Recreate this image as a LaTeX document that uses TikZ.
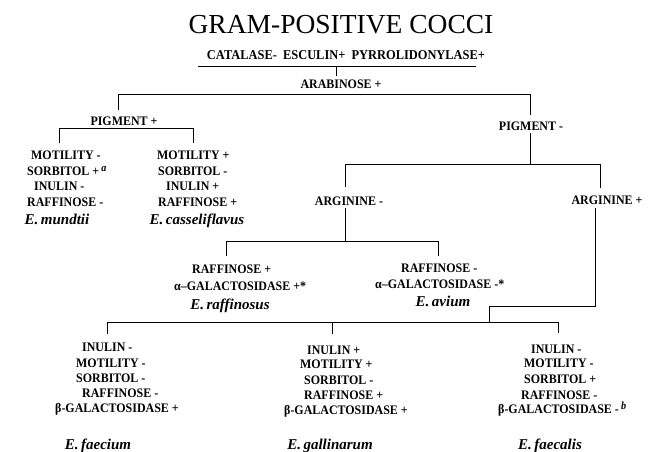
\documentclass[tikz,border=0pt]{standalone}
\usepackage{fontspec}
\setmainfont{Liberation Serif}
\newfontfamily\narrowserif[FakeStretch=0.92]{Liberation Serif}
\newcommand\supmark[1]{\raisebox{4pt}{\fontsize{11}{11}\selectfont\itshape #1}}
\begin{document}
\begin{tikzpicture}[x=1pt,y=-1pt,
  lbl/.style={font=\narrowserif\fontsize{13}{14}\selectfont\bfseries, inner sep=0pt, anchor=west, text height=9pt, text depth=0pt},
  hdr/.style={font=\narrowserif\fontsize{13}{14}\selectfont\bfseries, inner sep=0pt, text height=9pt, text depth=0pt},
  spc/.style={font=\fontsize{15}{16}\selectfont\bfseries\itshape, inner sep=0pt, text height=10pt, text depth=0pt},
  conn/.style={draw=black, line width=0.9pt}]
\useasboundingbox[fill=white] (0,0) rectangle (662,452);

% titles and headers
\node[inner sep=0pt, font=\fontsize{27.5}{30}\selectfont, text height=18pt, text depth=0pt] (title) at (341,25) {GRAM-POSITIVE COCCI};
\node[hdr, font=\narrowserif\fontsize{13.5}{14}\selectfont\bfseries] (cat) at (346,55) {CATALASE-\ \ ESCULIN+\ \ PYRROLIDONYLASE+};
\node[hdr] (arab) at (341,84) {ARABINOSE +};
\node[hdr] (pigp) at (124,121) {PIGMENT +};
\node[hdr] (pigm) at (531,126) {PIGMENT -};
\node[hdr] (argm) at (349,201) {ARGININE -};
\node[hdr] (argp) at (607,200) {ARGININE +};

% E. mundtii column
\node[lbl] (m1) at (31,155) {MOTILITY -};
\node[lbl] (m2) at (27,171) {SORBITOL +\,\supmark{a}};
\node[lbl] (m3) at (34,186) {INULIN -};
\node[lbl] (m4) at (27,202) {RAFFINOSE -};
\node[spc] (mund) at (57,219) {E.\,mundtii};

% E. casseliflavus column
\node[lbl] (c1) at (157,155) {MOTILITY +};
\node[lbl] (c2) at (158,171) {SORBITOL -};
\node[lbl] (c3) at (166,186) {INULIN +};
\node[lbl] (c4) at (158,202) {RAFFINOSE +};
\node[spc] (cass) at (197,219) {E.\,casseliflavus};

% E. raffinosus
\node[lbl] (r1) at (192,269) {RAFFINOSE +};
\node[lbl] (r2) at (174,286) {α–GALACTOSIDASE +*};
\node[spc] (raff) at (230,304) {E.\,raffinosus};

% E. avium
\node[lbl] (a1) at (401,268) {RAFFINOSE -};
\node[lbl] (a2) at (375,284) {α–GALACTOSIDASE -*};
\node[spc] (avium) at (443,301) {E.\,avium};

% E. faecium
\node[lbl] (f1) at (82,347) {INULIN -};
\node[lbl] (f2) at (76,363) {MOTILITY -};
\node[lbl] (f3) at (76,378) {SORBITOL -};
\node[lbl] (f4) at (82,393) {RAFFINOSE -};
\node[lbl] (f5) at (55,408) {β-GALACTOSIDASE +};
\node[spc] (faecium) at (98,444) {E.\,faecium};

% E. gallinarum
\node[lbl] (g1) at (307,350) {INULIN +};
\node[lbl] (g2) at (300,364) {MOTILITY +};
\node[lbl] (g3) at (304,380) {SORBITOL -};
\node[lbl] (g4) at (304,395) {RAFFINOSE +};
\node[lbl] (g5) at (284,410) {β-GALACTOSIDASE +};
\node[spc] (gall) at (330,444) {E.\,gallinarum};

% E. faecalis
\node[lbl] (e1) at (531,349) {INULIN -};
\node[lbl] (e2) at (524,363) {MOTILITY -};
\node[lbl] (e3) at (524,379) {SORBITOL +};
\node[lbl] (e4) at (521,395) {RAFFINOSE -};
\node[lbl] (e5) at (498,409) {β-GALACTOSIDASE -\,\supmark{b}};
\node[spc] (faecalis) at (550,444) {E.\,faecalis};

% junction coordinates
\coordinate (u1) at (198,66);
\coordinate (u2) at (476,66);
\coordinate (u3) at (336,66);
\coordinate (u4) at (336,76);
\coordinate (j1) at (118,110);
\coordinate (j2) at (118,94);
\coordinate (j3) at (530,94);
\coordinate (j4) at (530,115);
\coordinate (p1) at (59,143);
\coordinate (p2) at (59,128);
\coordinate (p3) at (193,128);
\coordinate (p4) at (193,143);
\coordinate (q1) at (530,133);
\coordinate (q2) at (530,164);
\coordinate (q3) at (345,187);
\coordinate (q4) at (345,164);
\coordinate (q5) at (600,164);
\coordinate (q6) at (600,188);
\coordinate (s1) at (345,208);
\coordinate (s2) at (345,241);
\coordinate (s3) at (226,256);
\coordinate (s4) at (226,241);
\coordinate (s5) at (438,241);
\coordinate (s6) at (438,256);
\coordinate (t1) at (595,208);
\coordinate (t2) at (595,306);
\coordinate (t3) at (489,306);
\coordinate (t4) at (489,322);
\coordinate (b1) at (107,334);
\coordinate (b2) at (107,322);
\coordinate (b3) at (558,322);
\coordinate (b4) at (558,333);
\coordinate (b5) at (332,322);
\coordinate (b6) at (332,334);

% connectors
\draw[conn] (u1) -- (u2);
\draw[conn] (u3) -- (u4);
\draw[conn] (j1) -- (j2) -- (j3) -- (j4);
\draw[conn] (p1) -- (p2) -- (p3) -- (p4);
\draw[conn] (q1) -- (q2);
\draw[conn] (q3) -- (q4) -- (q5) -- (q6);
\draw[conn] (s1) -- (s2);
\draw[conn] (s3) -- (s4) -- (s5) -- (s6);
\draw[conn] (t1) -- (t2) -- (t3) -- (t4);
\draw[conn] (b1) -- (b2) -- (b3) -- (b4);
\draw[conn] (b5) -- (b6);
\end{tikzpicture}
\end{document}
